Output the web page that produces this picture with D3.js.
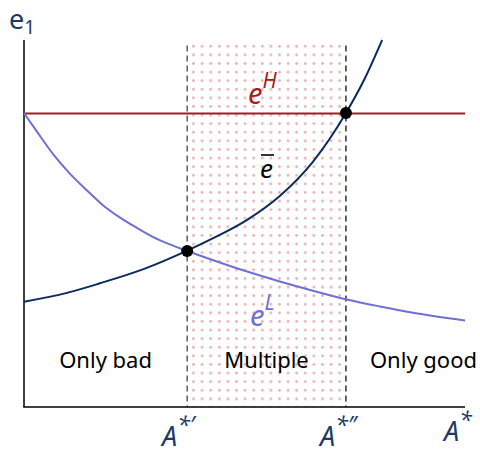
<!DOCTYPE html>
<html>
<head>
<meta charset="utf-8">
<script src="https://cdn.jsdelivr.net/npm/d3@7/dist/d3.min.js"></script>
<style>
  html, body { margin: 0; padding: 0; background: #fff; }
  svg { display: block; }
  text { font-family: "Noto Sans", "Open Sans", sans-serif; }
</style>
</head>
<body>
<svg id="chart" width="480" height="454"></svg>
<script>
// Effort levels as functions of the productivity threshold A*
const eHigh = 8.0;                 // flat high-effort level e^H
const thresholds = [3.7, 7.3];     // A*' and A*''

// e^L: low-effort curve, decreasing
const eLowX = [0.00, 0.29, 0.66, 1.04, 1.43, 1.79, 2.18, 2.56, 2.93, 3.31, 3.70, 4.29, 5.06, 5.80, 6.55, 7.32, 8.07, 8.82, 10.0];
const eLowY = [8.01, 7.51, 6.89, 6.36, 5.90, 5.50, 5.16, 4.88, 4.63, 4.43, 4.25, 4.00, 3.69, 3.42, 3.17, 2.93, 2.74, 2.57, 2.36];

// ē: cutoff curve, increasing and convex
const eBarX = [0.00, 0.975, 1.72, 2.74, 3.70, 4.29, 5.06, 5.80, 6.55, 7.30, 7.71, 8.12];
const eBarY = [2.87, 3.11, 3.37, 3.77, 4.26, 4.60, 5.10, 5.75, 6.68, 8.01, 8.91, 10.0];

// crossing points marked with dots
const crossX = [3.70, 7.30];
const crossY = [4.25, 8.01];

const regionLabels = ["Only bad", "Multiple", "Only good"];

const svg = d3.select("#chart");
const margin = { left: 24, right: 15, top: 40, bottom: 47 };
const W = 480, H = 454;

const x = d3.scaleLinear().domain([0, 10]).range([margin.left, W - margin.right]);
const y = d3.scaleLinear().domain([0, 10]).range([H - margin.bottom, margin.top]);

// dotted fill for the multiple-equilibria band
const defs = svg.append("defs");
const pat = defs.append("pattern")
  .attr("id", "dots")
  .attr("patternUnits", "userSpaceOnUse")
  .attr("width", 8.6).attr("height", 8.6)
  .attr("x", x(thresholds[0]) + 2).attr("y", y(10) + 2);
pat.append("circle").attr("cx", 4.3).attr("cy", 4.3).attr("r", 1.4).attr("fill", "#e6b0b0");

svg.append("rect")
  .attr("x", x(thresholds[0]))
  .attr("y", y(10))
  .attr("width", x(thresholds[1]) - x(thresholds[0]))
  .attr("height", y(0) - y(10))
  .attr("fill", "url(#dots)");

// threshold dashed lines
svg.selectAll("line.thr").data(thresholds).enter().append("line")
  .attr("class", "thr")
  .attr("x1", d => x(d)).attr("x2", d => x(d))
  .attr("y1", y(9.85)).attr("y2", y(0))
  .attr("stroke", (d, i) => i === 0 ? "#444" : "#111")
  .attr("stroke-width", 1.3)
  .attr("stroke-dasharray", "6,4");

// axes (plain lines, no ticks)
svg.append("line")
  .attr("x1", x(0)).attr("x2", x(0))
  .attr("y1", y(10)).attr("y2", y(0))
  .attr("stroke", "#000").attr("stroke-width", 1.5);
svg.append("line")
  .attr("x1", x(0) - 0.75).attr("x2", x(10))
  .attr("y1", y(0)).attr("y2", y(0))
  .attr("stroke", "#000").attr("stroke-width", 1.5);

// e^H flat line
svg.append("line")
  .attr("x1", x(0)).attr("x2", x(10))
  .attr("y1", y(eHigh)).attr("y2", y(eHigh))
  .attr("stroke", "#a51c1c").attr("stroke-width", 2);

const line = d3.line().x(d => x(d[0])).y(d => y(d[1])).curve(d3.curveMonotoneX);

svg.append("path")
  .datum(d3.zip(eLowX, eLowY))
  .attr("d", line)
  .attr("fill", "none").attr("stroke", "#7070d2").attr("stroke-width", 2);

svg.append("path")
  .datum(d3.zip(eBarX, eBarY))
  .attr("d", line)
  .attr("fill", "none").attr("stroke", "#0c2a5c").attr("stroke-width", 2);

// crossing points
svg.selectAll("circle.cross").data(d3.zip(crossX, crossY)).enter().append("circle")
  .attr("class", "cross")
  .attr("cx", d => x(d[0])).attr("cy", d => y(d[1]))
  .attr("r", 6).attr("fill", "#000");

// region labels
const regionCenters = [
  (x(0) + x(thresholds[0])) / 2,
  (x(thresholds[0]) + x(thresholds[1])) / 2,
  (x(thresholds[1]) + x(10)) / 2 + 18
];
svg.selectAll("text.region").data(regionLabels).enter().append("text")
  .attr("class", "region")
  .attr("x", (d, i) => regionCenters[i])
  .attr("y", 368)
  .attr("text-anchor", "middle")
  .attr("font-size", 22)
  .attr("fill", "#000")
  .text(d => d);

// curve labels
const navy = "#1b3a6b";
function supLabel(px, py, base, sup, color, size, supScale, lift) {
  const t = svg.append("text").attr("x", px).attr("y", py)
    .attr("fill", color).attr("font-size", size);
  t.append("tspan").attr("font-style", "italic").text(base);
  t.append("tspan").attr("font-style", "italic").attr("font-size", size * supScale)
    .attr("dy", -size * lift).text(sup);
  return t;
}

supLabel(248, 104, "e", "H", "#a51c1c", 29, 0.72, 0.55);
supLabel(250, 326, "e", "L", "#7070d2", 29, 0.72, 0.55);

// ē label
svg.append("text").attr("x", 260).attr("y", 178)
  .attr("font-size", 26).attr("font-style", "italic").attr("fill", "#000")
  .text("e");
svg.append("line").attr("x1", 261).attr("x2", 274).attr("y1", 155).attr("y2", 155)
  .attr("stroke", "#000").attr("stroke-width", 1.6);

// axis titles
const e1 = svg.append("text").attr("x", 9).attr("y", 29).attr("fill", navy).attr("font-size", 27);
e1.append("tspan").text("e");
e1.append("tspan").attr("font-size", 19).attr("dy", 5).text("1");

supLabel(444, 441, "A", "*", navy, 27, 0.85, 0.5);
supLabel(162, 446, "A", "*\u2032", navy, 27, 0.85, 0.5);
supLabel(320, 446, "A", "*\u2033", navy, 27, 0.85, 0.5);
</script>
</body>
</html>
